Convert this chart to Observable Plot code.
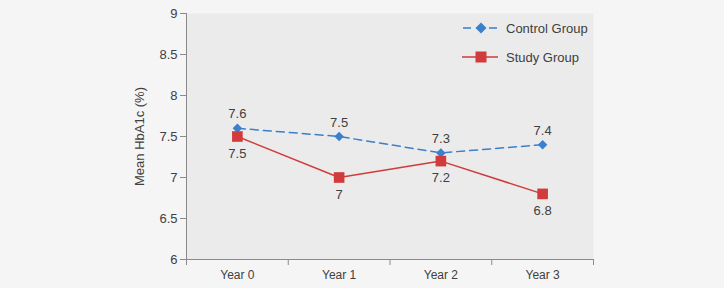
<!DOCTYPE html>
<html>
<head>
<meta charset="utf-8">
<script src="https://cdn.jsdelivr.net/npm/d3@7"></script>
<script src="https://cdn.jsdelivr.net/npm/@observablehq/plot@0.6"></script>
<style>
  body { margin: 0; background: #f5f5f5; font-family: "Liberation Sans", Arial, sans-serif; }
  #chart { position: relative; width: 724px; height: 288px; }
  #chart svg { display: block; }
  .legend { position: absolute; left: 462px; top: 19px; color: #404040; font-size: 13px; }
  .legend .row { display: flex; align-items: center; height: 18px; margin-bottom: 11px; }
  .legend svg { margin-right: 8px; }
</style>
</head>
<body>
<div id="chart"></div>
<script>
// Mean HbA1c per year for each group
const years = ["Year 0", "Year 1", "Year 2", "Year 3"];
const controlValues = [7.6, 7.5, 7.3, 7.4];
const studyValues = [7.5, 7.0, 7.2, 6.8];
const yTicks = [6, 6.5, 7, 7.5, 8, 8.5, 9];
const groups = ["Control Group", "Study Group"];

const colors = {"Control Group": "#3b7fcd", "Study Group": "#d13b3b"};
const textColor = "#404040";
const axisColor = "#8a8a8a";

// each year occupies one slot on the x axis; points sit at the slot centre
const rows = (values, group) => values.map((v, i) => ({slot: i + 0.5, year: years[i], value: v, group}));
const control = rows(controlValues, groups[0]);
const study = rows(studyValues, groups[1]);

const chart = Plot.plot({
  width: 724,
  height: 288,
  marginLeft: 186,
  marginRight: 131,
  marginTop: 13,
  marginBottom: 29,
  style: {background: "transparent", fontFamily: "'Liberation Sans', Arial, sans-serif", color: textColor},
  x: {domain: [0, years.length]},
  y: {domain: [6, 9]},
  marks: [
    Plot.frame({fill: "#ebebeb", stroke: "none"}),
    // slot boundary ticks along the bottom
    Plot.axisX({ticks: d3.range(years.length + 1), tickSize: 6, tickFormat: () => "", stroke: axisColor, label: null}),
    // year labels at slot centres
    Plot.axisX({ticks: control.map(d => d.slot), tickSize: 0, tickPadding: 11, tickFormat: d => years[Math.floor(d)], fontSize: 12, fill: textColor, label: null}),
    Plot.axisY({ticks: yTicks, tickSize: 6, tickPadding: 3, tickFormat: d => String(d), fontSize: 13, stroke: axisColor, fill: textColor,
      label: "Mean HbA1c (%)", labelAnchor: "center", labelOffset: 52, labelArrow: "none"}),
    Plot.ruleX([0], {stroke: axisColor}),
    Plot.ruleY([6], {stroke: axisColor}),
    Plot.line(control, {x: "slot", y: "value", stroke: colors[groups[0]], strokeWidth: 1.5, strokeDasharray: "8,5"}),
    Plot.line(study, {x: "slot", y: "value", stroke: colors[groups[1]], strokeWidth: 1.5}),
    Plot.dot(control, {x: "slot", y: "value", symbol: "diamond2", r: 4.3, fill: colors[groups[0]], stroke: "none"}),
    Plot.dot(study, {x: "slot", y: "value", symbol: "square", r: 6, fill: colors[groups[1]], stroke: "none"}),
    Plot.text(control, {x: "slot", y: "value", text: d => String(d.value), dy: -14, fontSize: 13, fill: textColor}),
    Plot.text(study, {x: "slot", y: "value", text: d => String(d.value), dy: 17, fontSize: 13, fill: textColor})
  ]
});

const holder = document.getElementById("chart");
holder.appendChild(chart);

// legend in the top-right corner of the plot area
const legend = document.createElement("div");
legend.className = "legend";
groups.forEach((g, i) => {
  const row = document.createElement("div");
  row.className = "row";
  const sym = i === 0
    ? `<line x1="0" y1="9" x2="36" y2="9" stroke="${colors[g]}" stroke-width="1.5" stroke-dasharray="8,5" stroke-dashoffset="-1"/><path d="M19,3.5L24.5,9L19,14.5L13.5,9Z" fill="${colors[g]}"/>`
    : `<line x1="0" y1="9" x2="36" y2="9" stroke="${colors[g]}" stroke-width="1.5"/><rect x="13.5" y="3.5" width="11" height="11" fill="${colors[g]}"/>`;
  row.innerHTML = `<svg width="36" height="18">${sym}</svg><span>${g}</span>`;
  legend.appendChild(row);
});
holder.appendChild(legend);
</script>
</body>
</html>
